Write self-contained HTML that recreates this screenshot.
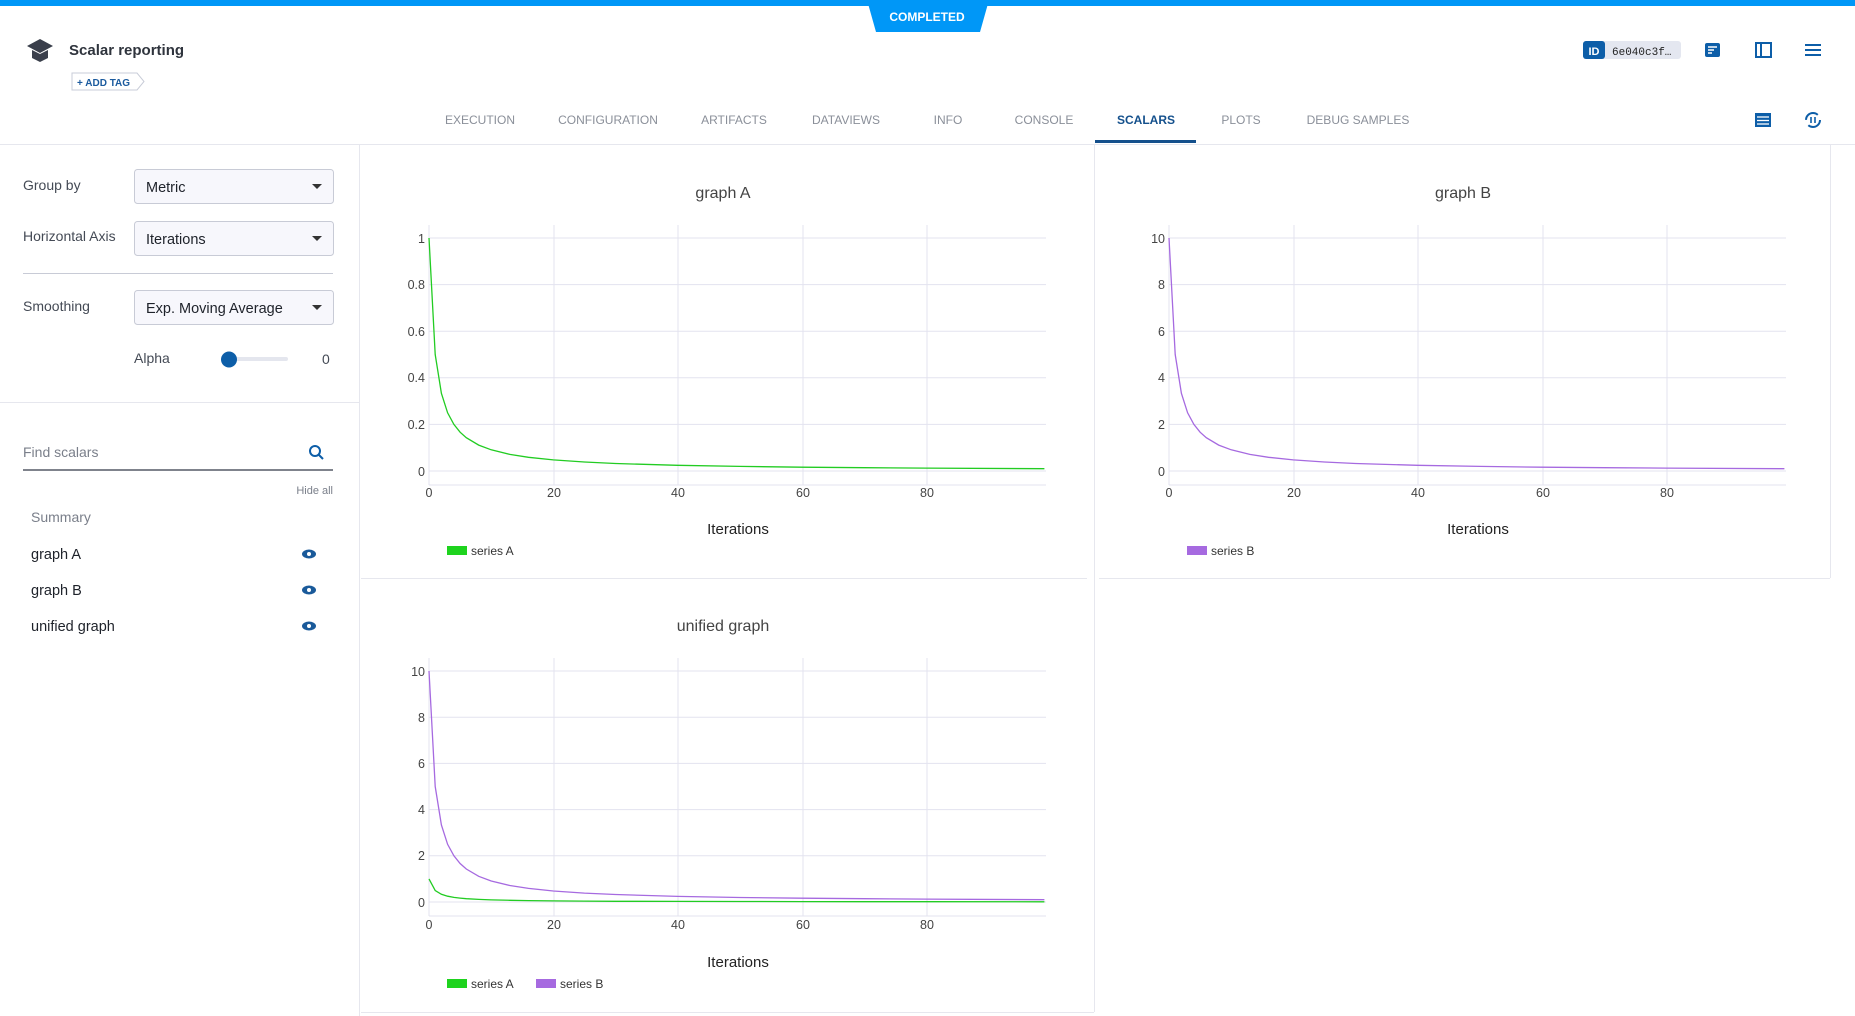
<!DOCTYPE html>
<html><head><meta charset="utf-8"><style>
html,body{margin:0;padding:0;background:#fff;}
svg{display:block;font-family:"Liberation Sans",sans-serif;}
</style></head><body>
<svg width="1855" height="1016" viewBox="0 0 1855 1016" xmlns="http://www.w3.org/2000/svg">
<rect width="1855" height="1016" fill="#fff"/>
<!-- top bar -->
<rect x="0" y="0" width="1855" height="6" fill="#0097f7"/>
<path d="M867 0 H989 L980 32 H876 Z" fill="#0097f7"/>
<text x="927" y="21" font-size="12" font-weight="bold" fill="#fff" text-anchor="middle">COMPLETED</text>
<!-- title -->
<g fill="#3a3f4b"><path d="M27 46 L40 39 L53 46 L40 53 Z"/><path d="M32 50 V58 L40 62 L48 58 V50 L40 54 Z"/></g>
<text x="69" y="55" font-size="15" font-weight="bold" fill="#2f343d">Scalar reporting</text>
<path d="M72 73 H137 L144 81.5 L137 90 H72 Z" fill="#fff" stroke="#c8ccd8"/>
<text x="77" y="86" font-size="10" font-weight="bold" fill="#1a5a9e">+ ADD TAG</text>
<!-- right icons -->
<rect x="1583" y="41" width="98" height="18" rx="3" fill="#e4e7f0"/>
<rect x="1583" y="41" width="22" height="18" rx="3" fill="#0d5ea8"/>
<text x="1594" y="55" font-size="11" font-weight="bold" fill="#fff" text-anchor="middle">ID</text>
<text x="1612" y="55" font-size="11" font-family="Liberation Mono,monospace" fill="#222">6e040c3f…</text>
<rect x="1705" y="43" width="15" height="14" rx="2" fill="#0d5ea8"/><g stroke="#fff" stroke-width="1.5"><line x1="1708" y1="47" x2="1717" y2="47"/><line x1="1708" y1="50" x2="1714" y2="50"/><line x1="1708" y1="53" x2="1712" y2="53"/></g>
<rect x="1756" y="43" width="15" height="14" fill="none" stroke="#0d5ea8" stroke-width="2"/><line x1="1761" y1="43" x2="1761" y2="57" stroke="#0d5ea8" stroke-width="2"/>
<g stroke="#0d5ea8" stroke-width="2"><line x1="1805" y1="45" x2="1821" y2="45"/><line x1="1805" y1="50" x2="1821" y2="50"/><line x1="1805" y1="55" x2="1821" y2="55"/></g>
<rect x="1755" y="113" width="16" height="14" fill="#0d5ea8"/><g stroke="#fff" stroke-width="1.3"><line x1="1757" y1="117" x2="1769" y2="117"/><line x1="1757" y1="120.5" x2="1769" y2="120.5"/><line x1="1757" y1="124" x2="1769" y2="124"/></g>
<circle cx="1813" cy="120" r="7" fill="none" stroke="#0d5ea8" stroke-width="2" stroke-dasharray="16 6"/><g stroke="#0d5ea8" stroke-width="1.6"><line x1="1811" y1="117" x2="1811" y2="123"/><line x1="1815" y1="117" x2="1815" y2="123"/></g>
<!-- tabs -->
<g font-size="12" fill="#8a8f99" text-anchor="middle">
<text x="480" y="124">EXECUTION</text><text x="608" y="124">CONFIGURATION</text><text x="734" y="124">ARTIFACTS</text><text x="846" y="124">DATAVIEWS</text><text x="948" y="124">INFO</text><text x="1044" y="124">CONSOLE</text><text x="1146" y="124" fill="#14508c" font-weight="bold">SCALARS</text><text x="1241" y="124">PLOTS</text><text x="1358" y="124">DEBUG SAMPLES</text>
</g>
<rect x="1095" y="140" width="101" height="3" fill="#14508c"/>
<line x1="0" y1="144.5" x2="1855" y2="144.5" stroke="#e6e7ee"/>
<!-- left panel -->
<line x1="359.5" y1="145" x2="359.5" y2="1016" stroke="#e6e7ee"/>
<g font-size="14" fill="#444a55">
<text x="23" y="190">Group by</text><text x="23" y="241">Horizontal Axis</text><text x="23" y="311">Smoothing</text>
<text x="134" y="363">Alpha</text><text x="322" y="364">0</text>
</g>
<g fill="#f7f7fc" stroke="#c8cbd6"><rect x="134.5" y="169.5" width="199" height="34" rx="3"/><rect x="134.5" y="221.5" width="199" height="34" rx="3"/><rect x="134.5" y="290.5" width="199" height="34" rx="3"/></g>
<g font-size="14.5" fill="#1e222a"><text x="146" y="192">Metric</text><text x="146" y="244">Iterations</text><text x="146" y="313">Exp. Moving Average</text></g>
<g fill="#333"><path d="M312 184 h10 l-5 5z"/><path d="M312 236 h10 l-5 5z"/><path d="M312 305 h10 l-5 5z"/></g>
<line x1="23" y1="273.5" x2="333" y2="273.5" stroke="#c8cbd6"/>
<rect x="228" y="357" width="60" height="4" rx="2" fill="#e4e6ee"/>
<circle cx="229" cy="359.5" r="8" fill="#0d5ea8"/>
<line x1="0" y1="402.5" x2="359" y2="402.5" stroke="#e6e7ee"/>
<text x="23" y="457" font-size="14" fill="#7a7f8a">Find scalars</text>
<circle cx="315" cy="451" r="5" fill="none" stroke="#0d5ea8" stroke-width="2"/><line x1="319" y1="455" x2="323" y2="459" stroke="#0d5ea8" stroke-width="2"/>
<line x1="23" y1="470" x2="333" y2="470" stroke="#555a66" stroke-width="1.5"/>
<text x="333" y="494" font-size="11" fill="#7a7f8a" text-anchor="end">Hide all</text>
<text x="31" y="522" font-size="14" fill="#7a7f8a">Summary</text>
<g font-size="14.5" fill="#1e222a"><text x="31" y="559">graph A</text><text x="31" y="595">graph B</text><text x="31" y="631">unified graph</text></g>
<g fill="#1a5a9a"><ellipse cx="309" cy="554" rx="7" ry="4.5"/><ellipse cx="309" cy="590" rx="7" ry="4.5"/><ellipse cx="309" cy="626" rx="7" ry="4.5"/></g>
<g fill="#fff"><circle cx="309" cy="554" r="2"/><circle cx="309" cy="590" r="2"/><circle cx="309" cy="626" r="2"/></g>
<!-- panel borders -->
<g stroke="#e6e7ee" fill="none">
<line x1="361" y1="578.5" x2="1087" y2="578.5"/>
<line x1="1099" y1="578.5" x2="1830" y2="578.5"/><line x1="1830.5" y1="145" x2="1830.5" y2="578"/>
<line x1="1094.5" y1="145" x2="1094.5" y2="1012"/>
<line x1="361" y1="1012.5" x2="1094" y2="1012.5"/>
</g>
<!-- chart A -->
<g>
<text x="723" y="198" font-size="16" fill="#444" text-anchor="middle">graph A</text>
<g stroke="#e3e3ef" stroke-width="1">
<line x1="429" y1="238" x2="1046" y2="238"/><line x1="429" y1="284.6" x2="1046" y2="284.6"/><line x1="429" y1="331.2" x2="1046" y2="331.2"/><line x1="429" y1="377.8" x2="1046" y2="377.8"/><line x1="429" y1="424.4" x2="1046" y2="424.4"/><line x1="429" y1="471" x2="1046" y2="471"/><line x1="429" y1="485" x2="1046" y2="485"/>
<line x1="429" y1="225" x2="429" y2="485"/><line x1="554" y1="225" x2="554" y2="485"/><line x1="678" y1="225" x2="678" y2="485"/><line x1="803" y1="225" x2="803" y2="485"/><line x1="927" y1="225" x2="927" y2="485"/>
</g>
<g font-size="12.5" fill="#444" text-anchor="end"><text x="425" y="243">1</text><text x="425" y="289">0.8</text><text x="425" y="336">0.6</text><text x="425" y="382">0.4</text><text x="425" y="429">0.2</text><text x="425" y="476">0</text></g>
<g font-size="12.5" fill="#444" text-anchor="middle"><text x="429" y="497">0</text><text x="554" y="497">20</text><text x="678" y="497">40</text><text x="803" y="497">60</text><text x="927" y="497">80</text></g>
<text x="738" y="534" font-size="15" fill="#222" text-anchor="middle">Iterations</text>
<rect x="447" y="546" width="20" height="9" fill="#1ed31e"/><text x="471" y="555" font-size="12" fill="#333">series A</text>
<polyline fill="none" stroke="#22cc22" stroke-width="1.3" points="429,238 435.2,354.5 441.4,393.3 447.6,412.8 453.9,424.4 460.1,432.2 466.3,437.7 478.7,445.1 491.2,449.8 509.8,454.4 528.5,457.3 553.3,459.9 584.4,462 615.5,463.5 677.6,465.3 739.8,466.4 802,467.2 864.1,467.7 926.3,468.1 1044.4,468.7"/>
</g>
<!-- chart B -->
<g transform="translate(740,0)">
<text x="723" y="198" font-size="16" fill="#444" text-anchor="middle">graph B</text>
<g stroke="#e3e3ef" stroke-width="1">
<line x1="429" y1="238" x2="1046" y2="238"/><line x1="429" y1="284.6" x2="1046" y2="284.6"/><line x1="429" y1="331.2" x2="1046" y2="331.2"/><line x1="429" y1="377.8" x2="1046" y2="377.8"/><line x1="429" y1="424.4" x2="1046" y2="424.4"/><line x1="429" y1="471" x2="1046" y2="471"/><line x1="429" y1="485" x2="1046" y2="485"/>
<line x1="429" y1="225" x2="429" y2="485"/><line x1="554" y1="225" x2="554" y2="485"/><line x1="678" y1="225" x2="678" y2="485"/><line x1="803" y1="225" x2="803" y2="485"/><line x1="927" y1="225" x2="927" y2="485"/>
</g>
<g font-size="12.5" fill="#444" text-anchor="end"><text x="425" y="243">10</text><text x="425" y="289">8</text><text x="425" y="336">6</text><text x="425" y="382">4</text><text x="425" y="429">2</text><text x="425" y="476">0</text></g>
<g font-size="12.5" fill="#444" text-anchor="middle"><text x="429" y="497">0</text><text x="554" y="497">20</text><text x="678" y="497">40</text><text x="803" y="497">60</text><text x="927" y="497">80</text></g>
<text x="738" y="534" font-size="15" fill="#222" text-anchor="middle">Iterations</text>
<rect x="447" y="546" width="20" height="9" fill="#a66ae0"/><text x="471" y="555" font-size="12" fill="#333">series B</text>
<polyline fill="none" stroke="#a66ae0" stroke-width="1.3" points="429,238 435.2,354.5 441.4,393.3 447.6,412.8 453.9,424.4 460.1,432.2 466.3,437.7 478.7,445.1 491.2,449.8 509.8,454.4 528.5,457.3 553.3,459.9 584.4,462 615.5,463.5 677.6,465.3 739.8,466.4 802,467.2 864.1,467.7 926.3,468.1 1044.4,468.7"/>
</g>
<!-- unified -->
<g>
<text x="723" y="631" font-size="16" fill="#444" text-anchor="middle">unified graph</text>
<g stroke="#e3e3ef" stroke-width="1">
<line x1="429" y1="671" x2="1046" y2="671"/><line x1="429" y1="717.2" x2="1046" y2="717.2"/><line x1="429" y1="763.4" x2="1046" y2="763.4"/><line x1="429" y1="809.6" x2="1046" y2="809.6"/><line x1="429" y1="855.8" x2="1046" y2="855.8"/><line x1="429" y1="902" x2="1046" y2="902"/><line x1="429" y1="916" x2="1046" y2="916"/>
<line x1="429" y1="658" x2="429" y2="916"/><line x1="554" y1="658" x2="554" y2="916"/><line x1="678" y1="658" x2="678" y2="916"/><line x1="803" y1="658" x2="803" y2="916"/><line x1="927" y1="658" x2="927" y2="916"/>
</g>
<g font-size="12.5" fill="#444" text-anchor="end"><text x="425" y="676">10</text><text x="425" y="722">8</text><text x="425" y="768">6</text><text x="425" y="814">4</text><text x="425" y="860">2</text><text x="425" y="907">0</text></g>
<g font-size="12.5" fill="#444" text-anchor="middle"><text x="429" y="929">0</text><text x="554" y="929">20</text><text x="678" y="929">40</text><text x="803" y="929">60</text><text x="927" y="929">80</text></g>
<text x="738" y="967" font-size="15" fill="#222" text-anchor="middle">Iterations</text>
<rect x="447" y="979" width="20" height="9" fill="#1ed31e"/><text x="471" y="988" font-size="12" fill="#333">series A</text>
<rect x="536" y="979" width="20" height="9" fill="#a66ae0"/><text x="560" y="988" font-size="12" fill="#333">series B</text>
<polyline fill="none" stroke="#a66ae0" stroke-width="1.3" points="429,671 435.2,786.5 441.4,825 447.6,844.3 453.9,855.8 460.1,863.5 466.3,869 478.7,876.3 491.2,881 509.8,885.5 528.5,888.4 553.3,891 584.4,893.1 615.5,894.5 677.6,896.4 739.8,897.5 802,898.2 864.1,898.7 926.3,899.1 1044.4,899.7"/>
<polyline fill="none" stroke="#22cc22" stroke-width="1.3" points="429,878.9 435.2,890.5 441.4,894.3 447.6,896.2 453.9,897.4 460.1,898.1 466.3,898.7 478.7,899.4 491.2,899.9 509.8,900.3 528.5,900.6 553.3,900.9 584.4,901.1 615.5,901.3 677.6,901.4 739.8,901.5 802,901.6 864.1,901.7 926.3,901.7 1044.4,901.8"/>
</g>
</svg>
</body></html>
